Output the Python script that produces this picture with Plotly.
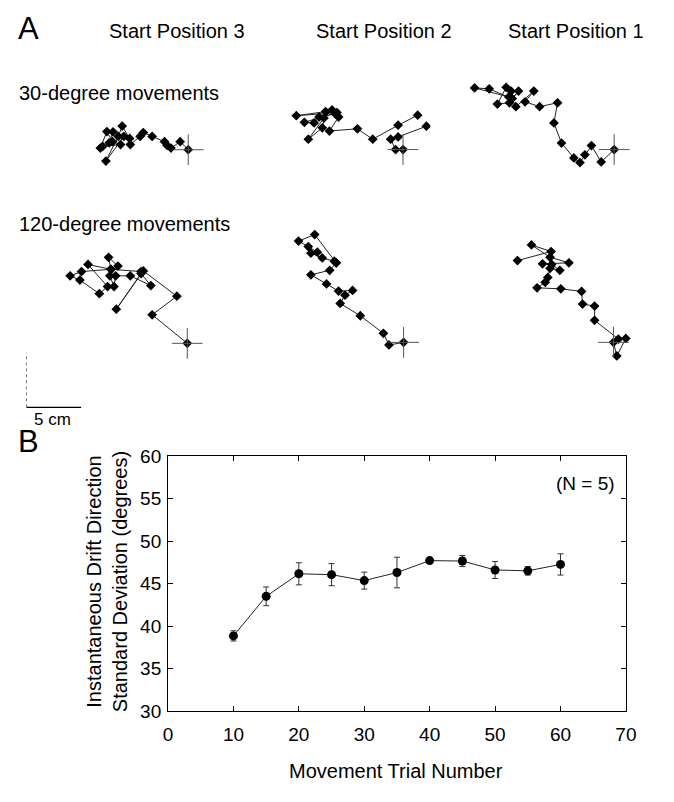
import plotly.graph_objects as go

W, H = 674, 802
S = 11.2  # pixels per cm in panel A
FONT = "Liberation Sans, Arial, sans-serif"

# ---------------- Panel A data (cm, relative to start position) ----------------
t30_sp3_x = [0, -0.74, -1.58, -1.93, -2.17, -3.30, -4.11, -4.40, -5.30, -5.36, -6.04, -6.40, -7.53, -5.89, -6.88, -7.23, -8.04, -7.44, -6.93, -6.19, -7.83]
t30_sp3_y = [0, 0.74, 0.15, 0.39, 0.74, 1.22, 1.58, 1.22, 0.48, 1.04, 2.17, 1.22, -1.04, 1.22, 1.64, 0.63, 0.15, 1.67, 0.74, 0.48, 0.30]

t30_sp2_x = [0, -0.68, -1.13, -0.45, 2.14, None, 1.34, -0.45, -2.77, -4.17, -6.73, -5.89, -6.49, -7.23, -8.66, -7.38, -7.08, -9.76, -6.04, -9.02, -8.13, -7.68, -6.19]
t30_sp2_y = [0, 0, 0.95, 1.16, 2.14, None, 3.15, 2.23, 0.95, 1.90, 1.70, 2.98, 3.63, 2.89, 0.95, 1.99, 3.48, 3.10, 3.39, 2.50, 2.44, 2.98, 3.27]

t30_sp1_x = [0, -1.19, -2.08, -2.68, -3.13, -3.69, -4.82, -5.51, -5.18, -6.82, -8.15, -7.35, -8.99, -9.35, -8.75, -9.58, -10.68, -9.88, -9.43, -9.64, -12.77, -11.43, -9.35]
t30_sp1_y = [0, -1.13, 0.36, -0.48, -1.19, -0.77, 0.60, 2.44, 4.29, 3.93, 4.38, 5.36, 3.93, 4.67, 5.36, 4.29, 4.17, 5.71, 5.36, 4.82, 5.65, 5.57, 4.67]

t120_sp3_x = [0, -3.21, -0.95, -4.02, -6.49, -4.23, -3.33, -5.21, -6.55, -6.70, -7.08, -6.34, -7.20, -6.99, -9.08, -7.29, -8.04, -9.82, -10.71, -9.67, -6.99, -4.23]
t120_sp3_y = [0, 2.62, 4.32, 6.64, 3.13, 6.40, 5.30, 6.19, 6.19, 5.21, 6.19, 7.08, 7.89, 6.79, 7.23, 5.21, 4.55, 5.80, 6.19, 6.58, 6.79, 6.58]

t120_sp2_x = [0, -1.34, -1.85, -3.96, -5.80, -5.36, -4.67, -5.95, -7.05, -8.48, -6.76, -6.16, -8.13, -9.61, -8.72, -7.89, -8.48, -7.44, -6.34, -6.16]
t120_sp2_y = [0, -0.24, 0.83, 2.44, 3.57, 4.32, 4.76, 4.70, 5.36, 6.19, 6.61, 7.29, 9.88, 9.29, 8.78, 8.27, 8.18, 7.74, 7.44, 7.29]

t120_sp1_x = [0, 0.30, 1.13, 0.45, -1.73, -1.73, -2.83, -2.92, -4.82, -6.99, -6.25, -6.01, -5.80, -4.91, -5.65, -6.49, -4.08, -5.80, -7.50, -5.71, -8.78]
t120_sp1_y = [0, -1.25, 0.36, 0.30, 2.02, 3.33, 3.51, 4.67, 4.91, 5.00, 5.51, 5.95, 6.79, 6.61, 7.14, 7.20, 7.29, 7.80, 8.93, 8.33, 7.50]

# ---------------- Panel B data ----------------
trial_number = [10, 15, 20, 25, 30, 35, 40, 45, 50, 55, 60]
drift_sd = [38.85, 43.5, 46.15, 46.05, 45.35, 46.3, 47.7, 47.65, 46.6, 46.5, 47.25]
drift_err = [0.6, 1.1, 1.3, 1.3, 1.0, 1.8, 0.15, 0.65, 1.0, 0.5, 1.25]

SCALE_CM = 5

# ---------------- layout helpers ----------------
def px(x):
    return x / W

def py(y):
    return 1 - y / H

fig = go.Figure()

# start-position pixel centres of the six trajectory panels (layout)
panels = [
    (t30_sp3_x, t30_sp3_y, 187.7, 143.5),
    (t30_sp2_x, t30_sp2_y, 407.7, 143.3),
    (t30_sp1_x, t30_sp1_y, 624.0, 143.3),
    (t120_sp3_x, t120_sp3_y, 186.7, 342.3),
    (t120_sp2_x, t120_sp2_y, 408.3, 341.3),
    (t120_sp1_x, t120_sp1_y, 623.3, 341.3),
]
XR = [-13.5, 2.5]
YR = [-2.0, 10.5]

layout_axes = {}
for i, (xs, ys, cx, cy) in enumerate(panels, start=1):
    xa = "x" if i == 1 else f"x{i}"
    ya = "y" if i == 1 else f"y{i}"
    fig.add_trace(go.Scatter(
        x=xs, y=ys, xaxis=xa, yaxis=ya, mode="lines+markers",
        line=dict(color="#222222", width=1),
        marker=dict(symbol="diamond", size=7.5, color="black"),
        connectgaps=False, showlegend=False, hoverinfo="skip"))
    fig.add_trace(go.Scatter(
        x=[xs[0]], y=[ys[0]], xaxis=xa, yaxis=ya, mode="markers",
        marker=dict(symbol="cross-thin", size=22, color="#555555",
                    line=dict(color="#555555", width=1)),
        showlegend=False, hoverinfo="skip"))
    xd = [px(cx + XR[0] * S), px(cx + XR[1] * S)]
    yd = [py(cy - YR[0] * S), py(cy - YR[1] * S)]
    key = "" if i == 1 else str(i)
    layout_axes["xaxis" + key] = dict(domain=xd, range=XR, visible=False, fixedrange=True)
    layout_axes["yaxis" + key] = dict(domain=yd, range=YR, visible=False, fixedrange=True)

# ---------------- Panel B ----------------
fig.add_trace(go.Scatter(
    x=trial_number, y=drift_sd, xaxis="x7", yaxis="y7", mode="lines+markers",
    line=dict(color="#222222", width=1),
    marker=dict(symbol="circle", size=9, color="black"),
    error_y=dict(type="data", array=drift_err, visible=True, color="#333333",
                 thickness=1, width=3),
    showlegend=False))

axis_common = dict(showline=True, linecolor="black", linewidth=1, mirror="ticks",
                   ticks="inside", ticklen=5, tickcolor="black", showgrid=False,
                   zeroline=False, fixedrange=True,
                   tickfont=dict(family=FONT, size=19, color="black"))
layout_axes["xaxis7"] = dict(axis_common, domain=[px(167), px(636)], range=[0, 70],
                             dtick=10, tick0=0, anchor="y7", ticklabelstandoff=6)
layout_axes["yaxis7"] = dict(axis_common, domain=[py(720), py(458)], range=[30, 60],
                             dtick=5, tick0=30, anchor="x7", ticklabelstandoff=2)

fig.update_layout(**layout_axes)

ann = []
def text(t, x, y, size=20, xanchor="center", yanchor="middle", angle=0):
    ann.append(dict(text=t, x=px(x), y=py(y), xref="paper", yref="paper",
                    xanchor=xanchor, yanchor=yanchor, showarrow=False,
                    textangle=angle, font=dict(family=FONT, size=size, color="black")))

text("A", 11, 19, size=31, xanchor="left")
text("Start Position 3", 176, 22)
text("Start Position 2", 388, 22)
text("Start Position 1", 585, 22)
text("30-degree movements", 12, 85, xanchor="left")
text("120-degree movements", 12, 220, xanchor="left")
text(f"{SCALE_CM} cm", 49, 421, size=17)
text("B", 11, 443, size=31, xanchor="left")
text("(N = 5)", 627, 486, size=19, xanchor="right")
text("Movement Trial Number", 401, 781, size=20)
text("Instantaneous Drift Direction<br>Standard Deviation (degrees)", 104, 587,
     size=20, angle=-90)

# scale bar (5 cm)
bx, by = 22, 408
shapes = [
    dict(type="line", xref="paper", yref="paper", x0=px(bx), y0=py(by),
         x1=px(bx + SCALE_CM * S), y1=py(by), line=dict(color="black", width=1.2)),
    dict(type="line", xref="paper", yref="paper", x0=px(bx), y0=py(by),
         x1=px(bx), y1=py(by - SCALE_CM * S), line=dict(color="#777777", width=1, dash="dot")),
]

fig.update_layout(width=W, height=H, margin=dict(l=0, r=0, t=0, b=0),
                  paper_bgcolor="white", plot_bgcolor="white",
                  annotations=ann, shapes=shapes, showlegend=False)

fig.write_html("out.html")
